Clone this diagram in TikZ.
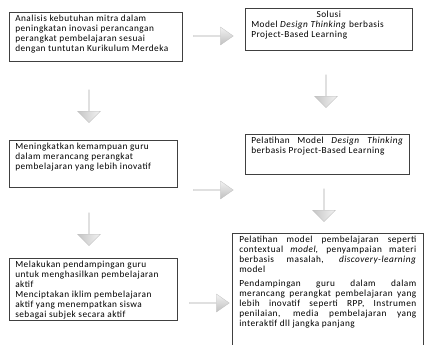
\documentclass[tikz,border=0pt]{standalone}
\usepackage{fontspec}
\setmainfont{Carlito}[LetterSpace=5]
\usetikzlibrary{shapes.arrows}
\newcommand\bxt[3]{\parbox[t][#2][t]{#1}{\raggedright #3}}
\newcommand\bxj[3]{\parbox[t][#2][t]{#1}{#3}}
\tikzset{
  box/.style={draw=black!75, line width=0.6pt, anchor=north west, inner xsep=6pt, inner ysep=3pt,
    font=\fontsize{9.3}{10}\selectfont},
  rarrow/.style={single arrow, draw=gray!50, line width=0.3pt, top color=gray!10, bottom color=gray!50,
    minimum height=40pt, minimum width=18pt, single arrow head extend=3pt, single arrow tip angle=70, inner sep=0pt},
  darrow/.style={single arrow, shape border rotate=270, draw=gray!50, line width=0.3pt, left color=gray!45, right color=gray!10,
    minimum height=33pt, minimum width=23pt, single arrow head extend=5pt, single arrow tip angle=90, inner sep=0pt},
}
\begin{document}
\begin{tikzpicture}[x=1pt,y=-1pt]
\useasboundingbox (0,0) rectangle (424,345);
\node[box] (b1) at (9,12) {\bxt{161pt}{43pt}{Analisis kebutuhan mitra dalam peningkatan inovasi perancangan perangkat pembelajaran sesuai dengan tuntutan Kurikulum Merdeka}};
\node[box] (b2) at (245,8) {\bxt{155pt}{36pt}{\makebox[\linewidth]{Solusi}\\Model \textit{Design Thinking} berbasis\\Project-Based Learning}};
\node[box] (b3) at (9,140) {\bxt{156pt}{41pt}{Meningkatkan kemampuan guru dalam merancang perangkat pembelajaran yang lebih inovatif}};
\node[box] (b4) at (245,134) {\bxt{152pt}{34pt}{\makebox[152pt][s]{Pelatihan\hfill Model\hfill \textit{Design}\hfill \textit{Thinking}}\\berbasis Project-Based Learning}};
\node[box] (b5) at (9,258) {\bxt{156pt}{56pt}{Melakukan pendampingan guru untuk menghasilkan pembelajaran aktif\\Menciptakan iklim pembelajaran aktif yang menempatkan siswa sebagai subjek secara aktif}};
\node[box, inner xsep=7pt] (b6) at (232,233) {\bxj{177pt}{111pt}{Pelatihan model pembelajaran seperti\linebreak contextual \textit{model}, penyampaian materi\linebreak berbasis masalah, \textit{discovery-learning}\linebreak model\par\vspace{4pt}Pendampingan guru dalam dalam\linebreak merancang perangkat pembelajaran yang\linebreak lebih inovatif seperti RPP, Instrumen\linebreak penilaian, media pembelajaran yang\linebreak interaktif dll jangka panjang}};
\node[rarrow] (a1) at (213,36) {};
\node[rarrow] (a4) at (213,190) {};
\node[rarrow] (a7) at (209,303) {};
\node[darrow] (a2) at (326,91) {};
\node[darrow] (a3) at (89,106) {};
\node[darrow] (a5) at (324,205) {};
\node[darrow] (a6) at (89,229) {};
\end{tikzpicture}
\end{document}
